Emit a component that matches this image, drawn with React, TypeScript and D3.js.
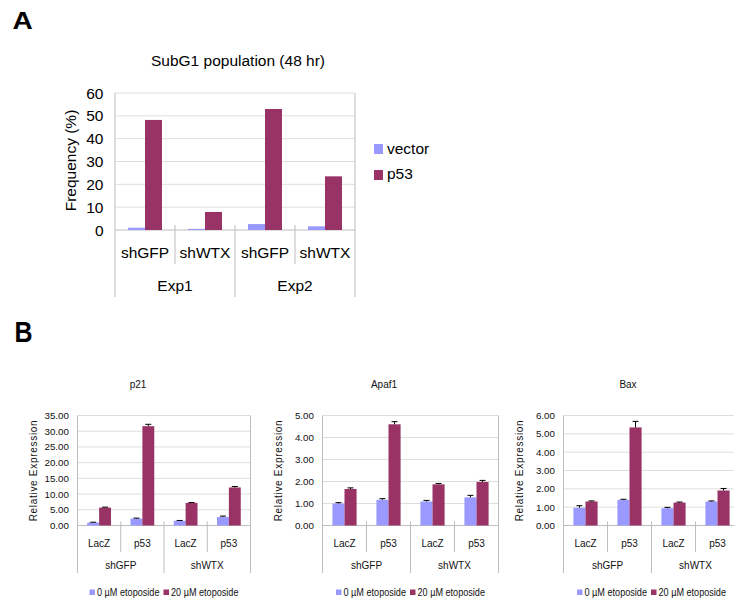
import React from "react";
import * as d3 from "d3";

// ---------- Panel A data ----------
const expGroups = ["Exp1", "Exp2"];
const shCategories = ["shGFP", "shWTX"];
const seriesA = ["vector", "p53"];
const subG1Vector = [1.0, 0.5, 2.6, 1.6];
const subG1P53 = [48.2, 7.9, 53.0, 23.5];
const yTicksA = [0, 10, 20, 30, 40, 50, 60];

// ---------- Panel B data ----------
const bSubCategories = ["LacZ", "p53"];
const bGroups = ["shGFP", "shWTX"];
const bSeries = ["0 µM etoposide", "20 µM etoposide"];

const p21Control = [0.95, 2.2, 1.5, 2.7];
const p21ControlErr = [0.1, 0.15, 0.1, 0.3];
const p21Treated = [5.7, 31.6, 7.2, 12.1];
const p21TreatedErr = [0.15, 0.6, 0.1, 0.3];
const p21Ticks = [0, 5, 10, 15, 20, 25, 30, 35];

const apaf1Control = [1.0, 1.17, 1.09, 1.28];
const apaf1ControlErr = [0.04, 0.05, 0.05, 0.09];
const apaf1Treated = [1.66, 4.6, 1.87, 1.98];
const apaf1TreatedErr = [0.05, 0.12, 0.04, 0.07];
const apaf1Ticks = [0, 1, 2, 3, 4, 5];

const baxControl = [0.97, 1.4, 0.94, 1.31];
const baxControlErr = [0.11, 0.03, 0.05, 0.03];
const baxTreated = [1.31, 5.35, 1.25, 1.91];
const baxTreatedErr = [0.03, 0.33, 0.03, 0.11];
const baxTicks = [0, 1, 2, 3, 4, 5, 6];

const BLUE = "#9999ff";
const MAROON = "#993366";
const GRID = "#dedede";
const AXIS = "#bdbdbd";
const FONT = "'Liberation Sans', Arial, sans-serif";

function PanelA() {
  const left = 115, right = 355, top = 93, zero = 230;
  const cats = expGroups.flatMap((e) => shCategories.map((s) => `${e}|${s}`));
  const x = d3.scaleBand().domain(cats).range([left, right]);
  const inner = d3
    .scaleBand()
    .domain(seriesA)
    .range([0, x.bandwidth()])
    .paddingInner(0)
    .paddingOuter(0.765);
  const y = d3.scaleLinear().domain([0, 60]).range([zero, top]);
  const values: Record<string, number[]> = { vector: subG1Vector, p53: subG1P53 };
  const colors: Record<string, string> = { vector: BLUE, p53: MAROON };
  const groupBand = d3.scaleBand().domain(expGroups).range([left, right]);
  return (
    <g fontFamily={FONT}>
      <text x={12.5} y={29} fontSize={23} fontWeight="bold" transform="translate(12.5,29) scale(1.22,1) translate(-12.5,-29)">A</text>
      <text x={238} y={66} fontSize={15.5} textAnchor="middle">SubG1 population (48 hr)</text>
      {yTicksA.map((t) => (
        <g key={t}>
          <line x1={left} x2={right} y1={y(t)} y2={y(t)} stroke={t === 0 ? AXIS : GRID} strokeWidth={1} />
          <text x={103.5} y={y(t) + 5.5} fontSize={15.5} textAnchor="end">{t}</text>
        </g>
      ))}
      <line x1={left} x2={left} y1={top} y2={297} stroke={AXIS} />
      <line x1={right} x2={right} y1={top} y2={297} stroke={AXIS} />
      {cats.map((c, i) =>
        seriesA.map((s) => {
          const v = values[s][i];
          return (
            <rect key={c + s} x={(x(c) as number) + (inner(s) as number)} y={y(v)} width={inner.bandwidth()} height={zero - y(v)} fill={colors[s]} />
          );
        })
      )}
      {cats.map((c, i) =>
        i > 0 ? (
          <line key={"sep" + c} x1={x(c) as number} x2={x(c) as number} y1={zero - 5} y2={i % 2 === 0 ? 297 : 264} stroke={AXIS} />
        ) : null
      )}
      {cats.map((c) => (
        <text key={"l" + c} x={(x(c) as number) + x.bandwidth() / 2} y={258} fontSize={15.5} textAnchor="middle">
          {c.split("|")[1]}
        </text>
      ))}
      {expGroups.map((g) => (
        <text key={g} x={(groupBand(g) as number) + groupBand.bandwidth() / 2} y={291} fontSize={15.5} textAnchor="middle">{g}</text>
      ))}
      <text transform={`translate(75.5,160.5) rotate(-90)`} fontSize={15.5} textAnchor="middle">Frequency (%)</text>
      {seriesA.map((s, i) => (
        <g key={"leg" + s}>
          <rect x={374} y={144 + i * 26} width={9} height={10} fill={colors[s]} />
          <text x={387} y={153.5 + i * 25} fontSize={15.5}>{s}</text>
        </g>
      ))}
    </g>
  );
}

type BProps = {
  title: string;
  left: number;
  right: number;
  titleX: number;
  control: number[];
  controlErr: number[];
  treated: number[];
  treatedErr: number[];
  ticks: number[];
};

function PanelBChart({ title, left, right, titleX, control, controlErr, treated, treatedErr, ticks }: BProps) {
  const top = 415.5, zero = 525.5;
  const cats = bGroups.flatMap((g) => bSubCategories.map((s) => `${g}|${s}`));
  const x = d3.scaleBand().domain(cats).range([left, right]);
  const inner = d3.scaleBand().domain(bSeries).range([0, x.bandwidth()]).paddingInner(0).paddingOuter(0.82);
  const y = d3.scaleLinear().domain([0, d3.max(ticks) as number]).range([zero, top]);
  const groupBand = d3.scaleBand().domain(bGroups).range([left, right]);
  const vals = [control, treated];
  const errs = [controlErr, treatedErr];
  const colors = [BLUE, MAROON];
  const cx = (left + right) / 2;
  const fs = 10;
  const w1 = 62.5;
  const w2 = 67.5;
  const total = 5.5 + 2 + w1 + 4 + 5.5 + 2 + w2;
  const lx = cx - total / 2;
  return (
    <g fontFamily={FONT} fill="#111">
      <text x={titleX} y={388} fontSize={10} textAnchor="middle">{title}</text>
      {ticks.map((t) => (
        <g key={t}>
          <line x1={left} x2={right} y1={y(t)} y2={y(t)} stroke={t === 0 ? AXIS : GRID} />
          <text x={left - 8.5} y={y(t) + 3.5} fontSize={9.8} textAnchor="end">{t.toFixed(2)}</text>
        </g>
      ))}
      <line x1={left} x2={left} y1={top} y2={573} stroke={AXIS} />
      <line x1={right} x2={right} y1={top} y2={573} stroke={AXIS} />
      {cats.map((c, i) =>
        vals.map((arr, k) => {
          const v = arr[i];
          const bx = (x(c) as number) + (inner(bSeries[k]) as number);
          const bw = inner.bandwidth();
          const ey = y(v + errs[k][i]);
          return (
            <g key={c + k}>
              <rect x={bx} y={y(v)} width={bw} height={zero - y(v)} fill={colors[k]} />
              <line x1={bx + bw / 2} x2={bx + bw / 2} y1={y(v)} y2={ey} stroke="#000" strokeWidth={1} />
              <line x1={bx + bw / 2 - 3} x2={bx + bw / 2 + 3} y1={ey} y2={ey} stroke="#000" strokeWidth={1} />
            </g>
          );
        })
      )}
      {cats.map((c, i) =>
        i > 0 ? (
          <line key={"s" + c} x1={x(c) as number} x2={x(c) as number} y1={zero - 4} y2={i % 2 === 0 ? 573 : 552} stroke={AXIS} />
        ) : null
      )}
      {cats.map((c) => (
        <text key={"l" + c} x={(x(c) as number) + x.bandwidth() / 2} y={546.5} fontSize={10} textAnchor="middle">{c.split("|")[1]}</text>
      ))}
      {bGroups.map((g) => (
        <text key={g} x={(groupBand(g) as number) + groupBand.bandwidth() / 2} y={569} fontSize={10} textAnchor="middle">{g}</text>
      ))}
      <text transform={`translate(${left - 40.5},${470.5}) rotate(-90)`} fontSize={10} letterSpacing={0.7} textAnchor="middle">Relative Expression</text>
      <rect x={lx} y={589.5} width={5.5} height={5.5} fill={BLUE} />
      <text x={lx + 7.5} y={595.5} fontSize={fs} textLength={w1} lengthAdjust="spacingAndGlyphs">{bSeries[0]}</text>
      <rect x={lx + 7.5 + w1 + 4} y={589.5} width={5.5} height={5.5} fill={MAROON} />
      <text x={lx + 7.5 + w1 + 4 + 7.5} y={595.5} fontSize={fs} textLength={w2} lengthAdjust="spacingAndGlyphs">{bSeries[1]}</text>
    </g>
  );
}

export default function App() {
  return (
    <svg width={734} height={603} style={{ position: "absolute", left: 0, top: 0, background: "#fff" }}>
      <rect width={734} height={603} fill="#fff" />
      <PanelA />
      <text x={14.5} y={342} fontSize={25} fontWeight="bold" fontFamily={FONT} transform="translate(14.5,342) scale(1,1.2) translate(-14.5,-342)">B</text>
      <PanelBChart title="p21" left={77.5} right={250.5} titleX={138} control={p21Control} controlErr={p21ControlErr} treated={p21Treated} treatedErr={p21TreatedErr} ticks={p21Ticks} />
      <PanelBChart title="Apaf1" left={322.5} right={498.5} titleX={384} control={apaf1Control} controlErr={apaf1ControlErr} treated={apaf1Treated} treatedErr={apaf1TreatedErr} ticks={apaf1Ticks} />
      <PanelBChart title="Bax" left={563.5} right={739.5} titleX={628} control={baxControl} controlErr={baxControlErr} treated={baxTreated} treatedErr={baxTreatedErr} ticks={baxTicks} />
    </svg>
  );
}
